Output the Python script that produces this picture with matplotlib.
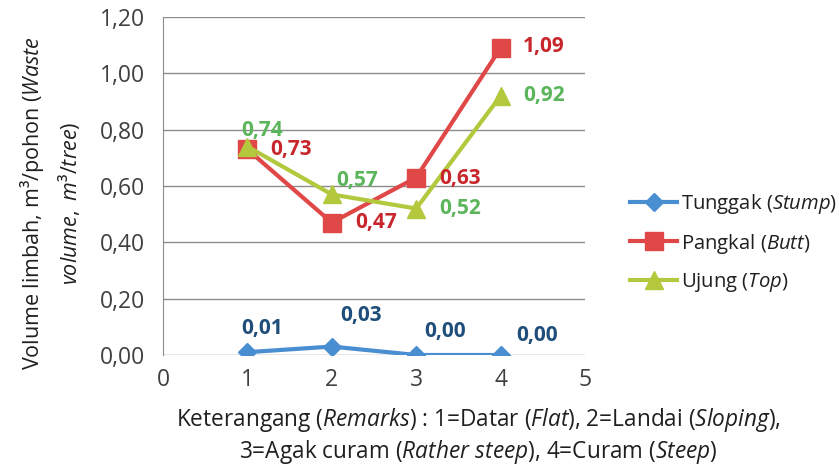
import matplotlib
matplotlib.use("Agg")
import matplotlib.pyplot as plt

FONT = "Open Sans"
plt.rcParams['font.family'] = [FONT, 'DejaVu Sans']
plt.rcParams['mathtext.fontset'] = 'custom'
plt.rcParams['mathtext.rm'] = FONT
plt.rcParams['mathtext.it'] = FONT + ':italic'

x = [1, 2, 3, 4]
stump = [0.01, 0.03, 0.00, 0.00]
butt = [0.73, 0.47, 0.63, 1.09]
top = [0.74, 0.57, 0.52, 0.92]
series_names = [r"Tunggak ($\mathit{Stump}$)", r"Pangkal ($\mathit{Butt}$)", r"Ujung ($\mathit{Top}$)"]
yticks = [0.0, 0.2, 0.4, 0.6, 0.8, 1.0, 1.2]
xticks = [0, 1, 2, 3, 4, 5]

c_blue, c_red, c_green = "#4A8ED2", "#E04848", "#B4C83E"
l_blue, l_red, l_green = "#1F4E7A", "#C8262C", "#5BB55A"

fig = plt.figure(figsize=(8.39, 4.70), dpi=100)
ax = fig.add_axes([163/839, 1-355/470, 422/839, 338/470])

ax.plot(x, stump, color=c_blue, lw=3, marker='D', ms=9, label=series_names[0], zorder=3)
ax.plot(x, butt, color=c_red, lw=3, marker='s', ms=13, label=series_names[1], zorder=3)
ax.plot(x, top, color=c_green, lw=3, marker='^', ms=13, label=series_names[2], zorder=4)

off_stump = [(15, 24), (29, 31), (29, 23), (36, 20)]
off_butt = [(44, 0), (44, 0), (44, -1), (43, 1)]
off_top = [(15, 16), (25, 14), (44, 0), (43, 0)]
for vals, offs, col in [(stump, off_stump, l_blue), (butt, off_butt, l_red), (top, off_top, l_green)]:
    for xi, v, o in zip(x, vals, offs):
        ax.annotate(f"{v:.2f}".replace('.', ','), (xi, v), xytext=o, textcoords='offset pixels',
                    ha='center', va='center', color=col, fontsize=15, fontweight='bold', zorder=5)

ax.set_xlim(0, 5)
ax.set_ylim(0, 1.2)
ax.set_xticks(xticks)
ax.set_xticklabels([str(t) for t in xticks])
ax.set_yticks(yticks)
ax.set_yticklabels([f"{t:.2f}".replace('.', ',') for t in yticks])
ax.tick_params(axis='both', length=0, labelsize=16.5, colors='#404040')
ax.tick_params(axis='y', pad=13)
ax.tick_params(axis='x', pad=9)
ax.grid(axis='y', color='#8C8C8C', lw=1)
ax.set_axisbelow(True)
for s in ['top', 'right', 'bottom']:
    ax.spines[s].set_visible(False)
ax.spines['left'].set_color('#8C8C8C')

fig.text(50/839, 1-203/470,
         "Volume limbah, m³/pohon ($\\mathit{Waste}$\n$\\mathit{volume,\\ m³/tree}$)",
         rotation=90, ha='center', va='center', multialignment='center', fontsize=15.5, color='#202020',
         linespacing=1.45)
fig.text(478/839, 1-436/470,
         "Keterangang ($\\mathit{Remarks}$) : 1=Datar ($\\mathit{Flat}$), 2=Landai ($\\mathit{Sloping}$),\n"
         "3=Agak curam ($\\mathit{Rather\\ steep}$), 4=Curam ($\\mathit{Steep}$)",
         ha='center', va='center', multialignment='center', fontsize=16.3, color='#202020', linespacing=1.2)

leg = fig.legend(loc='center left', bbox_to_anchor=(612/839, 1-243/470), frameon=False,
                 fontsize=14.6, handlelength=2.3, labelspacing=0.75, handletextpad=0.2)
for t in leg.get_texts():
    t.set_color('#202020')

fig.savefig("out.png", dpi=100)
